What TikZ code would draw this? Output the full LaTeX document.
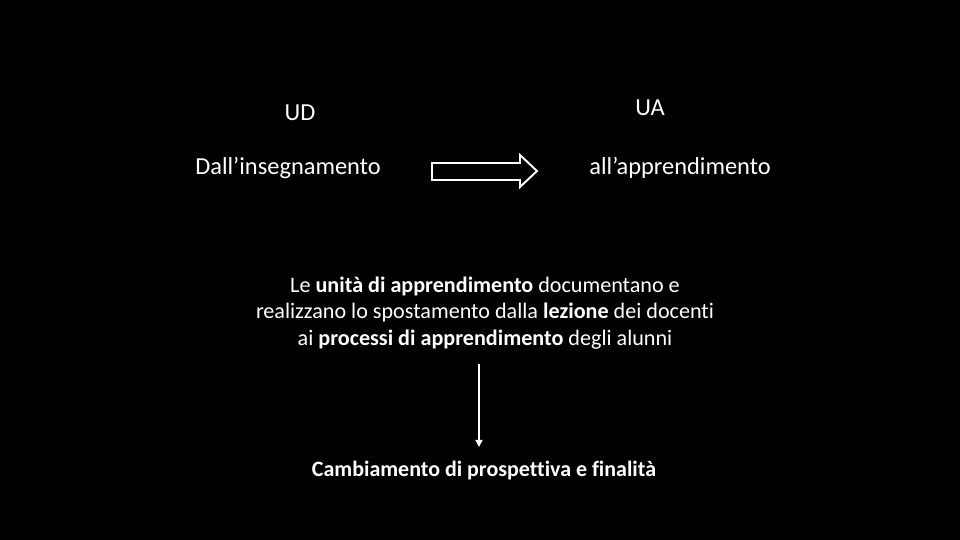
\documentclass[tikz,border=0pt]{standalone}
\usepackage{fontspec}
\setmainfont[Ligatures=NoCommon]{Carlito}
\usetikzlibrary{arrows.meta}

\begin{document}
\begin{tikzpicture}[x=0.02cm,y=-0.02cm,
    txt/.style={text=white,font=\fontsize{13.9}{15}\selectfont,inner sep=0pt}]
            % Background
            \fill[black] (0,0) rectangle (960,540);
            \useasboundingbox (0,0) rectangle (960,540);

            % Labels
            \node[txt] (ud) at (300,113) {UD};
            \node[txt] (ua) at (650,108) {UA};
            \node[txt] (from) at (288,168) {Dall’insegnamento};
            \node[txt] (to) at (680,168) {all’apprendimento};

            % Block arrow
            \draw[white,line width=1.1pt,line join=miter]
                (432,163) -- (520,163) -- (520,155) -- (537,171)
                -- (520,187) -- (520,180) -- (432,180) -- cycle;

            % Text
            \node[txt,align=center,font=\fontsize{12.6}{15}\selectfont] (par) at (485,313)
                {Le \textbf{unità di apprendimento} documentano e\\
                 realizzano lo spostamento dalla \textbf{lezione} dei docenti\\
                 ai \textbf{processi di apprendimento} degli alunni};
            \node[txt,font=\fontsize{12.5}{15}\selectfont] (goal) at (484,471)
                {\textbf{Cambiamento di prospettiva e finalità}};

            % Down arrow
            \coordinate (a1) at (479,364);
            \coordinate (a2) at (479,447);
            \draw[white,line width=0.8pt,-{Triangle[width=4pt,length=4pt]}] (a1) -- (a2);
        \end{tikzpicture}
\end{document}
